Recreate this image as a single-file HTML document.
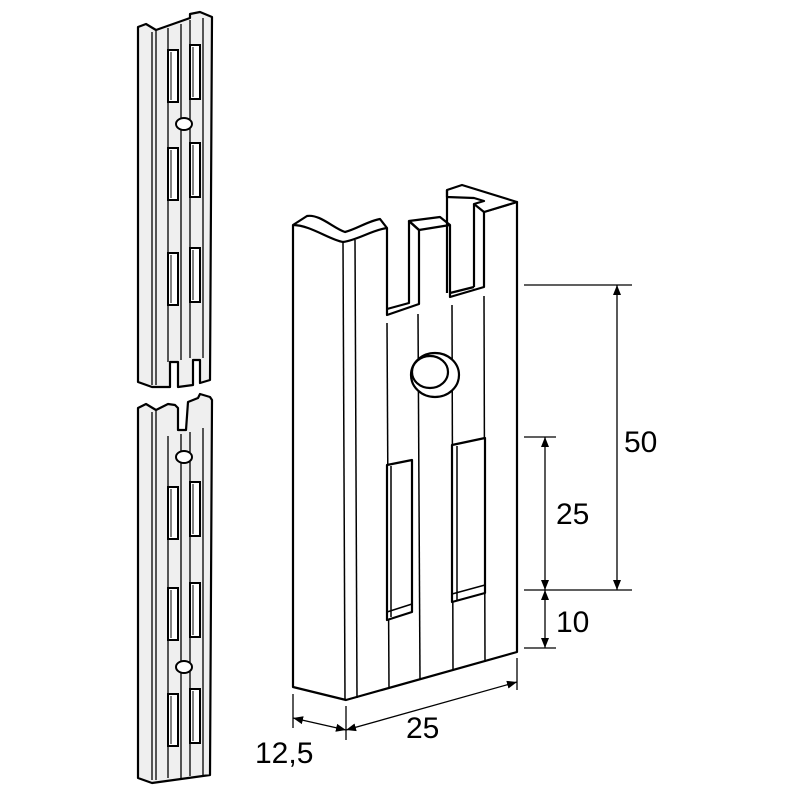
<!DOCTYPE html>
<html><head><meta charset="utf-8"><style>
html,body{margin:0;padding:0;background:#fff;}
svg{display:block}
text{font-family:"Liberation Sans",Arial,sans-serif;fill:#000}
</style></head><body>
<svg width="800" height="800" viewBox="0 0 800 800" xmlns="http://www.w3.org/2000/svg">
<defs>
<marker id="a" viewBox="0 0 10 10" refX="10" refY="5" markerWidth="10" markerHeight="10" orient="auto-start-reverse" markerUnits="userSpaceOnUse"><path d="M0,1 L10,5 L0,9 z" fill="#000"/></marker>
<g id="slotpair" fill="#fff" stroke="#000" stroke-width="2">
<rect x="168" y="0" width="10" height="52"/><line x1="171" y1="2" x2="171" y2="50" stroke-width="1"/>
<rect x="190" y="-5" width="10" height="54"/><line x1="193" y1="-3" x2="193" y2="47" stroke-width="1"/>
</g>
</defs>
<!-- upper strip -->
<g stroke="#000" stroke-width="2.2" fill="#efefef" stroke-linejoin="round">
<path d="M138,27 L146,24 L156,30 L190,18 L190,14 L200,12 L212,17 L210,380 L200,383 L200,360 L193,360 L193,385 L178,387 L178,362 L170,362 L170,387 L152,387 L138,382 Z"/>
<g fill="none" stroke-width="1.3">
<line x1="152" y1="32" x2="152" y2="385"/><line x1="156" y1="31" x2="156" y2="385"/>
<line x1="168" y1="28" x2="168" y2="362"/><line x1="181" y1="24" x2="181" y2="360"/>
<line x1="190" y1="20" x2="190" y2="358"/><line x1="203" y1="18" x2="203" y2="358"/>
</g>
</g>
<use href="#slotpair" y="50"/><use href="#slotpair" y="148"/><use href="#slotpair" y="253"/>
<ellipse cx="184" cy="124" rx="8" ry="6" fill="#fff" stroke="#000" stroke-width="2"/>
<!-- lower strip -->
<g stroke="#000" stroke-width="2.2" fill="#efefef" stroke-linejoin="round">
<path d="M138,408 L146,404 L156,410 L168,404 L175,405 L178,408 L178,430 L186,430 L188,402 L198,398 L200,394 L210,397 L212,400 L210,775 L152,783 L138,778 Z"/>
<g fill="none" stroke-width="1.3">
<line x1="152" y1="412" x2="152" y2="780"/><line x1="156" y1="411" x2="156" y2="780"/>
<line x1="168" y1="436" x2="168" y2="778"/><line x1="181" y1="434" x2="181" y2="778"/>
<line x1="190" y1="432" x2="190" y2="776"/><line x1="203" y1="428" x2="203" y2="776"/>
</g>
</g>
<use href="#slotpair" y="487"/><use href="#slotpair" y="588"/><use href="#slotpair" y="694"/>
<ellipse cx="184" cy="457" rx="8" ry="6" fill="#fff" stroke="#000" stroke-width="2"/>
<ellipse cx="184" cy="667" rx="8" ry="6" fill="#fff" stroke="#000" stroke-width="2"/>

<!-- main piece -->
<g stroke="#000" stroke-width="2.2" fill="#fff" stroke-linejoin="round">
<path d="M293,225 L307,216 C320,214 333,228 345,232 C357,229 368,221 380,219 L387,228 L387,315 L419,304 L419,230 L409,221 L440,217 L450,225 L450,297 L484,287 L484,212 L517,202 L517,652 L346,700 L293,687 Z"/>
<path d="M293,225 C310,225 330,240 343,242 C358,240 372,230 387,228" fill="none"/>
<path d="M409,221 L409,303 L387,309 M409,221 L419,230 L450,225" fill="none"/>
<path d="M447,190 L462,185 L517,202 L484,212 L474,204 L484,201 L474,198 L447,197 Z"/>
<path d="M447,190 L447,293 M474,204 L474,287 M450,293 L474,287" fill="none"/>
<g fill="none" stroke-width="1.5">
<line x1="343" y1="242" x2="345" y2="700"/>
<line x1="355" y1="240" x2="357" y2="698"/>
<line x1="387" y1="323" x2="389" y2="688"/>
<line x1="418" y1="314" x2="420" y2="680"/>
<line x1="452" y1="305" x2="453" y2="670"/>
<line x1="484" y1="296" x2="485" y2="662"/>
</g>
<ellipse cx="435" cy="375" rx="24" ry="22" fill="#fff"/>
<ellipse cx="430" cy="372" rx="18" ry="16" fill="#fff"/>
<path d="M387,465 L412,460 L412,612 L387,620 Z"/>
<path d="M391,466 L391,617 M387,612 L412,604" fill="none" stroke-width="1.5"/>
<path d="M452,445 L485,438 L485,593 L452,602 Z"/>
<path d="M457,446 L457,600 M452,594 L485,585" fill="none" stroke-width="1.5"/>
</g>

<!-- dimensions -->
<g stroke="#000" stroke-width="1.3" fill="none">
<line x1="524" y1="285" x2="632" y2="285"/>
<line x1="524" y1="590" x2="632" y2="590"/>
<line x1="524" y1="437" x2="556" y2="437"/>
<line x1="524" y1="648" x2="556" y2="648"/>
<line x1="617" y1="285" x2="617" y2="590" marker-start="url(#a)" marker-end="url(#a)"/>
<line x1="545" y1="437" x2="545" y2="590" marker-start="url(#a)" marker-end="url(#a)"/>
<line x1="545" y1="590" x2="545" y2="648" marker-start="url(#a)" marker-end="url(#a)"/>
<line x1="293" y1="694" x2="293" y2="728"/>
<line x1="346" y1="706" x2="346" y2="740"/>
<line x1="517" y1="658" x2="517" y2="690"/>
<line x1="293" y1="718" x2="346" y2="730" marker-start="url(#a)" marker-end="url(#a)"/>
<line x1="346" y1="730" x2="517" y2="682" marker-start="url(#a)" marker-end="url(#a)"/>
</g>
<text x="624" y="452" font-size="30">50</text>
<text x="556" y="524" font-size="30">25</text>
<text x="556" y="632" font-size="30">10</text>
<text x="406" y="738" font-size="30">25</text>
<text x="255" y="763" font-size="30">12,5</text>
</svg>
</body></html>
